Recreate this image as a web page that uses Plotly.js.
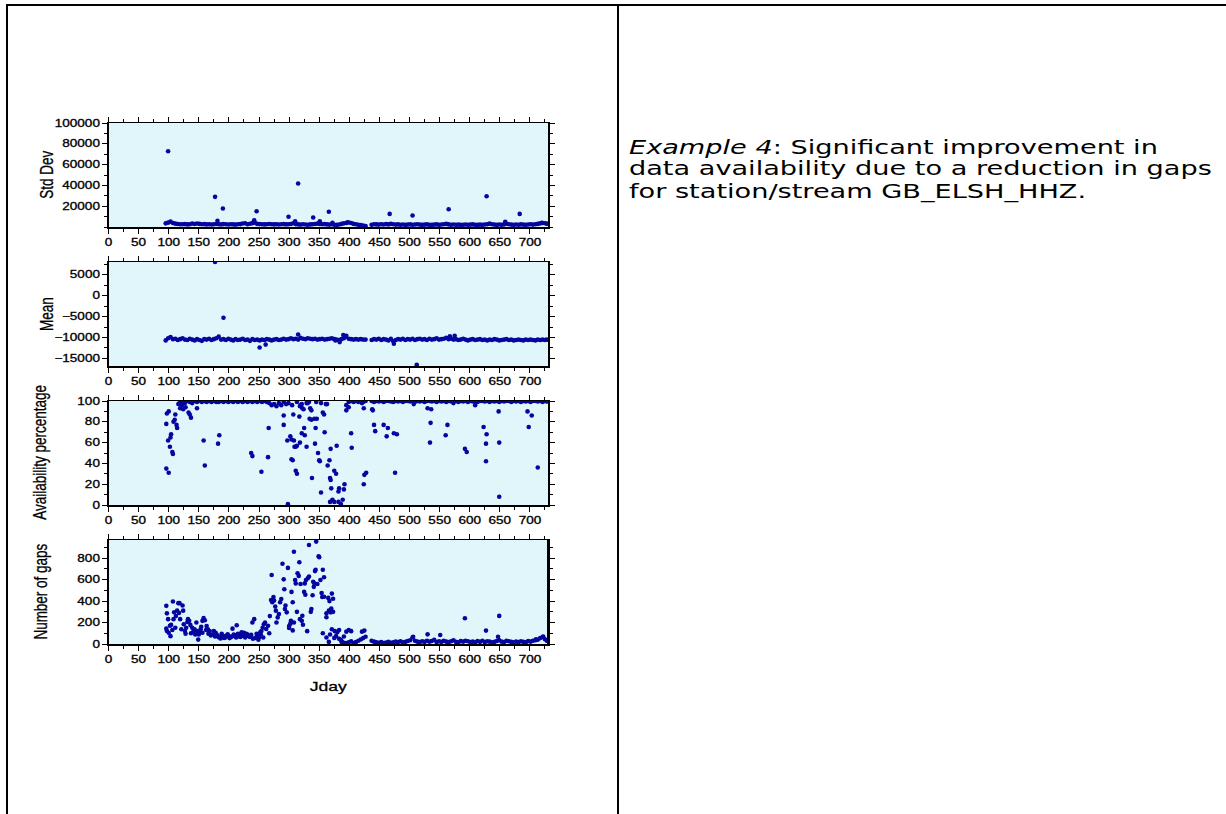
<!DOCTYPE html>
<html><head><meta charset="utf-8">
<script src="https://cdn.plot.ly/plotly-3.0.1.min.js"></script>
<style>html,body{margin:0;padding:0;background:#fff;overflow:hidden}#chart{width:1226px;height:814px}</style>
</head><body><div id="chart"></div>
<script>
// ---------------- DATA ----------------
const baseDays = [95,99,103,107,111,115,119,123,127,131,
135,139,143,147,151,155,159,163,167,171,
175,179,183,187,191,195,199,203,207,211,
215,219,223,227,231,235,239,243,247,251,
255,259,263,267,271,275,279,283,287,291,
295,299,303,307,311,315,319,323,327,331,
335,339,343,347,351,355,359,363,367,371,
375,379,383,387,391,395,399,403,407,411,
415,419,423,427,
437,441,445,449,453,457,461,465,469,473,
477,481,485,489,493,497,501,505,509,513,
517,521,525,529,533,537,541,545,549,553,
557,561,565,569,573,577,581,585,589,593,
597,601,605,609,613,617,621,625,629,633,
637,641,645,649,653,657,661,665,669,673,
677,681,685,689,693,697,701,705,709,713,
717,721,725,728];

const stdBase = [3500,4200,5200,3800,3200,2900,2700,2600,2800,2500,
2700,3300,2900,3400,3000,2600,2800,2500,2700,2400,
2600,2900,2700,2500,2800,2600,2400,2700,2500,2300,
2600,2800,3300,3600,2700,3100,3700,4100,3000,2800,
2600,2500,2700,2900,2600,2500,2700,2400,2600,2800,
2500,2700,2900,3600,2800,2500,2300,2600,2400,2200,
2500,2700,2900,3200,3000,2600,2800,2500,2300,2600,
2200,2000,2400,3000,3500,3900,4300,3800,3000,2600,
2200,1800,1400,900,
2200,2700,2500,2300,2600,2400,2800,2500,3000,2600,
2300,2500,2200,2400,2100,2300,2500,2200,2400,2600,
2300,2100,2300,2500,2200,2000,2300,2500,2200,2400,
2700,3000,2500,2200,2400,2100,2300,2000,2200,2400,
2100,2300,2500,2200,2000,2300,2100,2400,2700,3200,
2600,2300,2100,2400,2200,2500,3100,2600,2300,2100,
2400,2200,2500,2300,2100,2400,2700,2300,2600,3000,
3500,3800,3600,3200];
const stdOutDays = [99,177,181,190,242,246,299,310,315,340,351,366,372,397,467,505,565,628,659,683,720];
const stdOutVals = [72800,29000,6000,17800,6500,15200,9800,5600,41800,9100,5600,14600,4000,4600,12600,11000,17100,29600,5000,12600,4000];

const meanBase = [-10700,-10200,-9900,-10400,-10300,-10600,-10400,-10200,-10500,-10600,
-10300,-10500,-10700,-10400,-10600,-10800,-10400,-10500,-10300,-10600,
-10400,-10200,-9800,-10500,-10400,-10600,-10300,-10500,-10700,-10400,
-10600,-10500,-10300,-10600,-10500,-10800,-10400,-10600,-10500,-10700,
-10500,-10600,-10400,-10500,-10700,-10500,-10400,-10600,-10500,-10300,
-10500,-10400,-10200,-10400,-10300,-10500,-10100,-10300,-10400,-10200,
-10300,-10400,-10300,-10500,-10400,-10300,-10500,-10400,-10300,-10200,
-10400,-10500,-10600,-10400,-10200,-9600,-10300,-10400,-10500,-10400,
-10500,-10400,-10500,-10500,
-10600,-10400,-10500,-10300,-10600,-10400,-10500,-10700,-10300,-10900,
-10600,-10400,-10500,-10300,-10600,-10400,-10500,-10300,-10600,-10400,
-10300,-10500,-10400,-10600,-10300,-10500,-10400,-10200,-10500,-10400,
-10300,-10100,-10400,-10300,-10500,-10400,-10600,-10500,-10300,-10500,
-10700,-10500,-10400,-10600,-10500,-10400,-10600,-10500,-10700,-10500,
-10600,-10400,-10500,-10700,-10600,-10500,-10400,-10600,-10500,-10700,
-10600,-10500,-10600,-10700,-10500,-10600,-10500,-10600,-10700,-10500,
-10600,-10500,-10600,-10500];
const meanOutDays = [177,191,251,261,315,377,384,390,394,474,512,567,575];
const meanOutVals = [8000,-5280,-12400,-11700,-9300,-10700,-11100,-9400,-9800,-11500,-16500,-9700,-9600];

const availTopDays = [119,123,127,131,135,139,143,147,151,155,
159,163,167,171,175,179,183,187,191,195,
199,203,207,211,215,219,223,227,231,235,
239,243,247,251,255,259,263,267,271,275,
279,283,287,291,295,299,305,313,321,329,
345,353,363,395,399,403,407,411,415,419,
423,427,
437,441,445,449,453,457,461,465,469,473,
477,481,485,489,493,497,501,505,509,513,
517,521,525,529,533,537,541,545,549,553,
557,561,565,569,573,577,581,585,589,593,
597,601,605,609,613,617,621,625,629,633,
637,641,645,649,653,657,661,665,669,673,
677,681,685,689,693,697,701,705,709,713,
717,721,725,728];
const availTopVals = [97,99,98,100,99,98,100,99,100,99,
100,99,100,99,100,99,99,100,99,100,
99,100,99,100,99,100,99,100,99,100,
99,100,99,100,99,100,99,98,96,97,
95,98,96,99,97,98,96,99,97,98,
99,98,97,96,99,100,99,100,99,100,
99,100,
100,99,100,99.5,100,99,100,100,99.5,99,
100,99.5,100,99,100,100,99.5,100,99,100,
99.5,100,99,100,100,99.5,100,99,100,99.5,
100,99,100,99.5,100,100,99,100,99.5,100,
99,100,99.5,100,99,100,100,99.5,100,99,
100,99.5,100,99,100,99.5,100,100,99,100,
99.5,100,99,100,99.5,100,99,100,100,99.5,
100,99,100,99.5];

const availDays = [96,100,96,97,100,99,102,103,104,106,107,108,110,111,113,114,116,118,119,122,124,128,133,135,137,147,158,160,182,184,
237,239,254,265,266,291,291,297,298,302,304,304,306,307,308,309,311,313,311,313,317,318,319,322,324,318,321,326,325,329,
331,333,335,337,334,337,342,343,338,344,346,348,350,351,353,356,358,359,361,364,367,368,369,370,369,375,378,379,382,383,
368,372,375,382,386,389,391,392,395,399,403,404,421,424,424,425,428,438,439,441,443,457,462,464,474,479,476,507,530,536,
535,534,560,563,573,592,595,609,623,628,627,627,648,649,649,696,703,698,713];
const availVals = [35,31,78,88,90,62,56,65,68,51,49,80,82,87,77,74,97,98,93,96,92,94,89,87,84,93,62,38,59,67,
50,47,32,46,74,86,77,62,1,66,63,44,43,87,62,56,56,57,33,30,85,95,96,93,92,60,69,67,74,56,
98,99,93,91,83,82,83,59,26,74,83,50,43,42,12,89,87,70,97,38,43,26,24,16,54,33,30,57,13,16,
3,5,3,3,1,5,15,20,91,94,69,55,98,93,20,29,31,92,91,77,71,77,66,74,69,68,31,97,93,92,
79,60,67,77,98,54,51,96,75,68,59,42,90,60,8,90,86,75,36];

const gapsLowDays = [383,387,391,395,399,403,407,411,415,419,423,427,
437,441,445,449,453,457,461,465,469,473,
477,481,485,489,493,497,501,505,509,513,
517,521,525,529,533,537,541,545,549,553,
557,561,565,569,573,577,581,585,589,593,
597,601,605,609,613,617,621,625,629,633,
637,641,645,649,653,657,661,665,669,673,
677,681,685,689,693,697,701,705,709,713,
717,721,725,728];
const gapsLowVals = [48,22,12,8,15,25,10,18,30,42,55,68,
30,22,15,12,18,10,14,20,12,16,
22,18,25,15,20,28,35,60,30,22,
18,25,20,30,22,28,40,18,25,20,
30,22,18,25,35,20,15,28,22,30,
25,18,22,15,28,20,30,18,25,22,
15,20,28,35,22,18,30,25,20,15,
22,18,25,20,15,28,22,30,35,40,
55,65,45,30];

const gapsDays = [96,97,99,96,97,100,103,104,107,108,109,111,114,116,118,119,121,123,124,125,127,129,132,134,136,139,143,144,147,149,
150,153,156,156,158,160,163,165,168,172,175,178,183,186,189,192,196,200,203,206,208,213,217,222,225,231,233,239,242,244,
247,250,253,254,256,258,260,180,185,188,191,194,198,201,205,210,212,215,219,221,224,227,229,235,237,240,246,249,252,257,
262,265,267,102,106,112,117,128,131,137,141,146,152,154,162,166,170,177,
271,274,272,275,278,281,283,289,291,293,294,296,300,303,304,306,306,308,308,310,311,314,316,317,318,321,322,325,326,328,
331,333,333,337,339,341,342,344,345,349,352,354,355,356,358,362,366,369,371,373,368,371,375,378,
268,270,277,279,285,287,292,298,300,302,313,319,323,327,330,336,340,343,347,350,356,358,362,365,367,370,373,376,366,362,
380,383,386,388,391,395,399,403,421,425,506,530,551,592,627,647,649,722,710];
const gapsVals = [356,286,232,143,121,105,73,178,397,232,295,152,311,381,381,232,137,359,311,184,121,152,232,216,178,152,137,89,121,41,
89,137,105,216,241,222,168,137,121,89,121,105,63,51,63,57,79,73,63,143,89,175,73,89,105,89,73,200,232,57,
73,63,89,121,152,184,200,85,70,95,75,60,90,55,70,80,60,95,65,110,75,60,95,65,85,50,95,40,110,60,
140,170,100,170,130,260,290,95,205,100,120,200,110,160,130,95,80,70,
644,438,390,406,311,248,279,749,603,327,359,295,168,216,486,390,127,860,200,597,565,660,635,762,232,216,263,486,565,597,
613,629,924,327,454,533,565,692,955,819,597,476,438,692,622,286,311,295,470,422,89,137,57,73,
260,410,350,200,390,420,510,710,150,190,300,560,180,460,120,300,580,680,560,810,100,440,250,430,400,330,300,120,20,60,
110,130,40,20,70,115,130,120,115,125,68,90,84,240,125,68,262,70,45];

const xTickVals = [0,50,100,150,200,250,300,350,400,450,500,550,600,650,700];
const xTickText = ["0","50","100","150","200","250","300","350","400","450","500","550","600","650","700"];
const stdTickVals = [20000,40000,60000,80000,100000];
const stdTickText = ["20000","40000","60000","80000","100000"];
const meanTickVals = [-15000,-10000,-5000,0,5000];
const meanTickText = ["\u221215000","\u221210000","\u22125000","0","5000"];
const availTickVals = [0,20,40,60,80,100];
const availTickText = ["0","20","40","60","80","100"];
const gapsTickVals = [0,200,400,600,800];
const gapsTickText = ["0","200","400","600","800"];
const panelTitles = ["Std Dev","Mean","Availability percentage","Number of gaps"];
const xTitle = "Jday";
const noteLines = ["<i>Example 4</i>: Significant improvement in",
                   "data availability due to a reduction in gaps",
                   "for station/stream GB_ELSH_HHZ."];

// ---------------- LAYOUT ----------------
const W = 1226, H = 814;
const X = px => px / W;
const Y = py => 1 - py / H;
const plotL = 108.5, plotR = 548;
const panels = [[123,227],[262,366],[401,505],[540,644]];
const dotColor = "#0505a0";
const kPlot = 1.3;     // horizontal glyph stretch of the plot texts
const kNote = 1.4;     // horizontal glyph stretch of the note text
const tickFont = {family:"Liberation Sans, Arial, sans-serif", size:10.4, color:"#000"};

function xAxis(anchor){
  return {domain:[X(plotL),X(plotR)], anchor:anchor, range:[0,730],
    tickmode:"array", tickvals:xTickVals, ticktext:xTickText, ticks:"outside", ticklen:5, tickwidth:1, tickcolor:"#000",
    minor:{dtick:25, tick0:0, ticks:"outside", ticklen:3, tickwidth:1, tickcolor:"#000"},
    showline:true, linecolor:"#000", linewidth:1.5, mirror:"ticks",
    showgrid:false, zeroline:false, tickfont:tickFont, fixedrange:true};
}
function yAxis(anchor, idx, range, tickvals, ticktext, minorD){
  const p = panels[idx];
  return {domain:[Y(p[1]),Y(p[0])], anchor:anchor, range:range,
    tickmode:"array", tickvals:tickvals, ticktext:ticktext, ticks:"outside", ticklen:5, tickwidth:1, tickcolor:"#000",
    minor:{dtick:minorD, ticks:"outside", ticklen:3, tickwidth:1, tickcolor:"#000"},
    showline:true, linecolor:"#000", linewidth:1.5, mirror:"ticks",
    showgrid:false, zeroline:false, tickfont:tickFont, fixedrange:true};
}

const mk = {size:4.6, color:dotColor};
function tr(x, y, xa, ya){ return {type:"scatter", mode:"markers", x:x, y:y, xaxis:xa, yaxis:ya, marker:mk, hoverinfo:"x+y", showlegend:false}; }

const traces = [
  tr(baseDays, stdBase, "x", "y"),
  tr(stdOutDays, stdOutVals, "x", "y"),
  tr(baseDays, meanBase, "x2", "y2"),
  tr(meanOutDays, meanOutVals, "x2", "y2"),
  tr(availTopDays, availTopVals, "x3", "y3"),
  tr(availDays, availVals, "x3", "y3"),
  tr(gapsLowDays, gapsLowVals, "x4", "y4"),
  tr(gapsDays, gapsVals, "x4", "y4")
];

const titleBase = 13.5;
const titleFontRot = {family:"Liberation Sans, Arial, sans-serif", size:titleBase*kPlot, color:"#000"};
const titleX = [47, 47, 40, 41];
const annotations = panelTitles.map((t,i)=>({text:t, xref:"paper", yref:"paper",
  x:X(titleX[i]), y:Y((panels[i][0]+panels[i][1])/2), textangle:-90, showarrow:false,
  xanchor:"center", yanchor:"middle", font:titleFontRot}));
annotations.push({text:xTitle, xref:"paper", yref:"paper", x:X((plotL+plotR)/2), y:Y(686),
  showarrow:false, xanchor:"center", yanchor:"middle",
  font:{family:"Liberation Sans, Arial, sans-serif", size:titleBase, color:"#000"}});
const noteY = [147, 169, 191];
noteLines.forEach((t,i)=>annotations.push({text:t, xref:"paper", yref:"paper", x:X(627), y:Y(noteY[i]),
  showarrow:false, xanchor:"left", yanchor:"middle", align:"left",
  font:{family:"DejaVu Sans, Verdana, sans-serif", size:19.4, color:"#000"}}));

const shapes = [
  {type:"line", xref:"paper", yref:"paper", x0:X(6), x1:1, y0:Y(5), y1:Y(5), line:{color:"#000",width:2}},
  {type:"line", xref:"paper", yref:"paper", x0:X(7), x1:X(7), y0:Y(4), y1:0, line:{color:"#000",width:2}},
  {type:"line", xref:"paper", yref:"paper", x0:X(618), x1:X(618), y0:Y(4), y1:0, line:{color:"#000",width:2}},
  {type:"line", xref:"paper", yref:"paper", x0:X(plotR+0.5), x1:X(plotR+0.5), y0:Y(panels[3][0]), y1:Y(panels[3][1]), line:{color:"#000",width:3}}
];

const layout = {
  width:W, height:H, margin:{l:0,r:0,t:0,b:0}, paper_bgcolor:"#fff", plot_bgcolor:"#e1f6fb",
  showlegend:false, annotations:annotations, shapes:shapes,
  xaxis:xAxis("y"), xaxis2:xAxis("y2"), xaxis3:xAxis("y3"), xaxis4:xAxis("y4"),
  yaxis:yAxis("x",0,[0,100000],stdTickVals,stdTickText,10000),
  yaxis2:yAxis("x2",1,[-16800,8000],meanTickVals,meanTickText,2500),
  yaxis3:yAxis("x3",2,[0,100],availTickVals,availTickText,10),
  yaxis4:yAxis("x4",3,[0,970],gapsTickVals,gapsTickText,100)
};

function stretch(el, k){
  const L = el.getComputedTextLength();
  if (!L) return;
  el.setAttribute("textLength", (L*k).toFixed(2));
  el.setAttribute("lengthAdjust", "spacingAndGlyphs");
}
function thicken(el, w){ el.style.stroke = "#000"; el.style.strokeWidth = w + "px"; }
Plotly.newPlot("chart", traces, layout, {displayModeBar:false, staticPlot:true}).then(gd=>{
  gd.querySelectorAll(".xaxislayer-above text, .yaxislayer-above text").forEach(t=>{ stretch(t, kPlot); thicken(t, 0.3); });
  gd.querySelectorAll("g.annotation").forEach(g=>{
    const i = +g.getAttribute("data-index");
    const t = g.querySelector("text.annotation-text");
    if (!t) return;
    if (i < 4) { stretch(t, 1/kPlot); thicken(t, 0.3); }
    else if (i === 4) { stretch(t, kPlot); thicken(t, 0.3); }
    else stretch(t, kNote);
  });
});
</script></body></html>
